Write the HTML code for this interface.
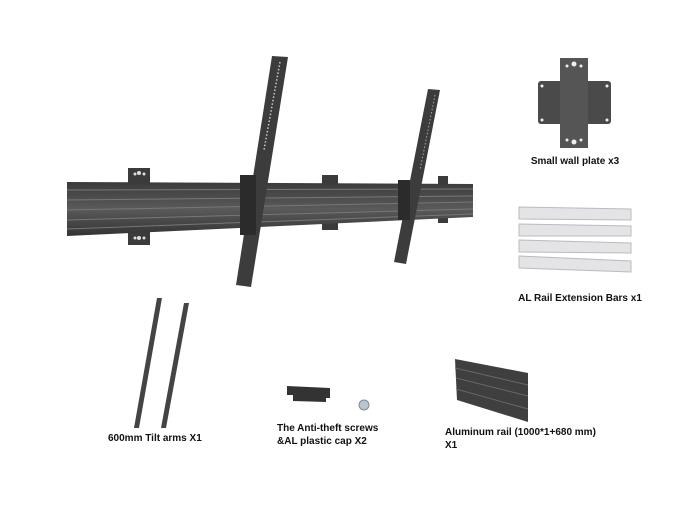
<!DOCTYPE html>
<html><head><style>
html,body{margin:0;padding:0;background:#fff;width:699px;height:524px;overflow:hidden}
svg{display:block}
text{font-family:"Liberation Sans",Arial,sans-serif;font-weight:bold;font-size:10px;fill:#111}
</style></head><body>
<svg width="699" height="524" viewBox="0 0 699 524">
<defs>
<linearGradient id="rail" x1="0" y1="0" x2="0" y2="1">
<stop offset="0" stop-color="#3a3a3a"/><stop offset="0.5" stop-color="#5a5a5a"/><stop offset="1" stop-color="#333"/>
</linearGradient>
</defs>
<!-- wall plates behind rail -->
<g fill="#3b3b3b">
<rect x="128" y="168" width="22" height="15"/><rect x="128" y="232" width="22" height="13"/>
<rect x="322" y="175" width="16" height="9"/><rect x="322" y="221" width="16" height="9"/>
<rect x="438" y="176" width="10" height="8"/><rect x="438" y="215" width="10" height="8"/>
</g>
<g fill="#ddd"><circle cx="135" cy="174" r="1.5"/><circle cx="139" cy="173" r="2"/><circle cx="144" cy="174" r="1.5"/>
<circle cx="135" cy="238" r="1.5"/><circle cx="139" cy="238" r="2"/><circle cx="144" cy="238" r="1.5"/></g>
<!-- main rail -->
<polygon points="67,182 473,184 473,217 67,236" fill="url(#rail)"/>
<g stroke="#777" stroke-width="1">
<line x1="67" y1="190" x2="473" y2="189"/><line x1="67" y1="200" x2="473" y2="196"/>
<line x1="67" y1="210" x2="473" y2="202"/><line x1="67" y1="220" x2="473" y2="209"/>
<line x1="67" y1="229" x2="473" y2="214"/></g>
<!-- arm 1 -->
<polygon points="272,56 288,57 251,287 236,285" fill="#3c3c3c"/>
<line x1="280" y1="62" x2="264" y2="150" stroke="#ccc" stroke-width="1.5" stroke-dasharray="1.5,2"/>
<rect x="240" y="175" width="16" height="60" fill="#2b2b2b"/>
<!-- arm 2 -->
<polygon points="428,89 440,90 406,264 394,262" fill="#3c3c3c"/>
<line x1="435" y1="95" x2="420" y2="170" stroke="#aaa" stroke-width="1" stroke-dasharray="1.5,2"/>
<rect x="398" y="180" width="12" height="40" fill="#2b2b2b"/>
<!-- small wall plate -->
<rect x="538" y="81" width="73" height="43" rx="3" fill="#4a4a4a"/>
<rect x="560" y="58" width="28" height="90" fill="#555"/>
<g fill="#eee"><circle cx="574" cy="64" r="2.5"/><circle cx="567" cy="66" r="1.5"/><circle cx="581" cy="66" r="1.5"/>
<circle cx="574" cy="142" r="2.5"/><circle cx="567" cy="140" r="1.5"/><circle cx="581" cy="140" r="1.5"/>
<circle cx="542" cy="86" r="1.5"/><circle cx="607" cy="86" r="1.5"/><circle cx="542" cy="120" r="1.5"/><circle cx="607" cy="120" r="1.5"/></g>
<text x="575" y="164" text-anchor="middle">Small wall plate x3</text>
<!-- extension bars -->
<g fill="#e4e4e6" stroke="#bbb" stroke-width="1">
<polygon points="519,207 631,209 631,220 519,219"/>
<polygon points="519,224 631,226 631,236 519,236"/>
<polygon points="519,240 631,243 631,253 519,252"/>
<polygon points="519,256 631,261 631,272 519,268"/></g>
<text x="580" y="301" text-anchor="middle">AL Rail Extension Bars x1</text>
<!-- small tilt arms -->
<polygon points="157,298 162,298 139,428 134,428" fill="#444"/>
<polygon points="184,303 189,303 166,428 161,428" fill="#444"/>
<text x="108" y="441">600mm Tilt arms X1</text>
<!-- cap & screw -->
<polygon points="287,386 330,388 330,398 326,398 326,402 293,401 293,395 287,395" fill="#333"/>
<circle cx="364" cy="405" r="5" fill="#b8c6d2" stroke="#889" stroke-width="1"/>
<text x="277" y="431">The Anti-theft screws</text>
<text x="277" y="444">&amp;AL plastic cap X2</text>
<!-- aluminum rail -->
<polygon points="455,359 528,373 528,422 457,400" fill="#3f3f3f"/>
<g stroke="#666"><line x1="455" y1="368" x2="528" y2="385"/><line x1="456" y1="378" x2="528" y2="396"/><line x1="456" y1="389" x2="528" y2="409"/></g>
<text x="445" y="435">Aluminum rail (1000*1+680 mm)</text>
<text x="445" y="448">X1</text>
</svg>
</body></html>
